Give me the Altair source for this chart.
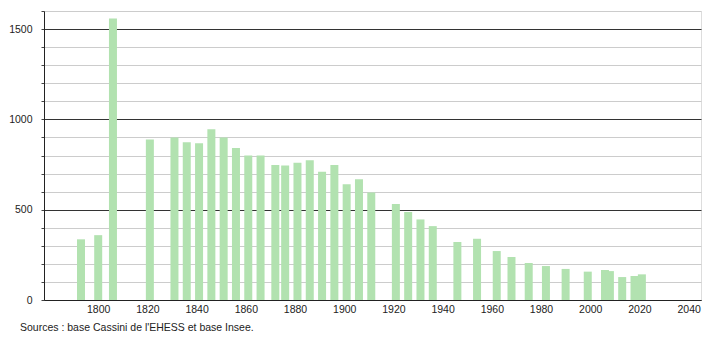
import altair as alt
import pandas as pd

years = [1793, 1800, 1806, 1821, 1831, 1836, 1841, 1846, 1851, 1856, 1861, 1866,
         1872, 1876, 1881, 1886, 1891, 1896, 1901, 1906, 1911, 1921, 1926, 1931,
         1936, 1946, 1954, 1962, 1968, 1975, 1982, 1990, 1999, 2006, 2008, 2013,
         2018, 2021]
population = [336, 359, 1559, 889, 900, 874, 868, 946, 900, 841, 800, 800,
              747, 745, 760, 774, 710, 747, 641, 669, 595, 531, 487, 446,
              409, 321, 339, 271, 238, 205, 188, 172, 157, 166, 160, 127,
              133, 142]
x_ticks = list(range(1800, 2041, 20))
y_ticks = list(range(0, 1601, 100))
source = "Sources : base Cassini de l'EHESS et base Insee."

df = pd.DataFrame({"year": years, "pop": population})
FONT = "Liberation Sans"
FS = 10.5

bars = alt.Chart(df).mark_bar(size=8, color="#b2e2b0").encode(
    x=alt.X("year:Q",
            scale=alt.Scale(domain=[1780, 2043], nice=False, zero=False),
            axis=alt.Axis(values=x_ticks, format="d", title=None, grid=False,
                          ticks=False, labelPadding=4, domainColor="#222",
                          labelColor="#222", labelFontSize=FS, labelFont=FONT)),
    y=alt.Y("pop:Q",
            scale=alt.Scale(domain=[0, 1600], nice=False),
            axis=alt.Axis(values=y_ticks, format="d", title=None, grid=True,
                          gridColor=alt.ExprRef("datum.value % 500 === 0 ? '#333' : '#cccccc'"),
                          labelExpr="datum.value % 500 === 0 ? datum.label : ''",
                          tickSize=3, tickColor="#444", labelPadding=9,
                          domainColor="#222", labelColor="#222",
                          labelFontSize=FS, labelFont=FONT)),
)

src = alt.Chart(pd.DataFrame({"t": [source]})).mark_text(
    align="left", baseline="middle", fontSize=FS, font=FONT, color="#222"
).encode(text="t:N", x=alt.value(-24), y=alt.value(317))

chart = alt.layer(bars, src).properties(
    width=657, height=289,
    autosize=alt.AutoSizeParams(type="none"),
    padding={"left": 44, "top": 11, "right": 9, "bottom": 40},
).configure_view(stroke=None).configure(background="white")

chart.save("out.html", embed_options={"renderer": "svg", "actions": False})
